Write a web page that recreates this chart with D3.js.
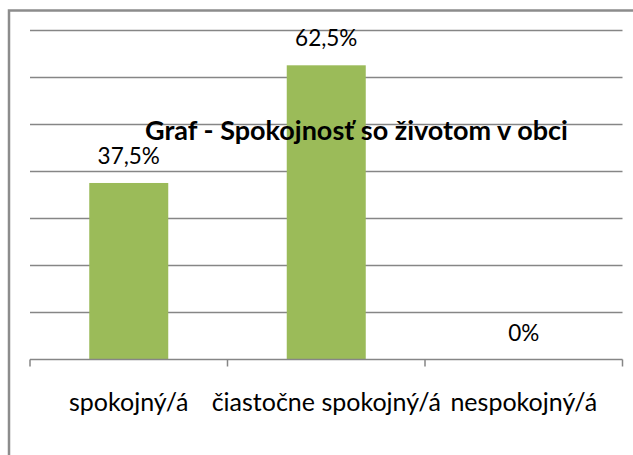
<!DOCTYPE html>
<html>
<head>
<meta charset="utf-8">
<script src="https://cdn.jsdelivr.net/npm/d3@7"></script>
<style>
  body { margin: 0; background: #fff; }
  svg { display: block; }
</style>
</head>
<body>
<script>
// Donnees
var categories = ['spokojný/á', 'čiastočne spokojný/á', 'nespokojný/á']
var values = [37.5, 62.5, 0]
var labels = ['37,5%', '62,5%', '0%']
var gridTicks = [0, 10, 20, 30, 40, 50, 60, 70]
var title = 'Graf - Spokojnosť so životom v obci'

var width = 633
var height = 455
var colours = { bar: '#9BBB59', grid: '#868686', border: '#8c8c8c', text: '#000' }
var font = 'Lato, "Open Sans", sans-serif'

var plot = { left: 30, right: 622.5, top: 30, bottom: 359.5 }

var x = d3.scaleBand()
    .domain(categories)
    .range([plot.left, plot.right])
    .paddingInner(0)
    .paddingOuter(0)

var y = d3.scaleLinear()
    .domain([0, 70])
    .range([plot.bottom, plot.top])

var svg = d3.select('body').append('svg')
    .attr('width', width)
    .attr('height', height)

// cadre (coupe a droite et en bas)
svg.append('rect')
    .attr('x', 9)
    .attr('y', 10.5)
    .attr('width', 700)
    .attr('height', 600)
    .attr('fill', 'none')
    .attr('stroke', colours.border)
    .attr('stroke-width', 2.5)

// lignes de grille
svg.append('g')
    .selectAll('line')
    .data(gridTicks.slice(1))
    .join('line')
    .attr('x1', plot.left)
    .attr('x2', plot.right)
    .attr('y1', d => Math.round(y(d)) + 0.5)
    .attr('y2', d => Math.round(y(d)) + 0.5)
    .attr('stroke', colours.grid)
    .attr('stroke-width', 1.5)

// barres
var barW = x.bandwidth() * 0.4
svg.append('g')
    .selectAll('rect')
    .data(values)
    .join('rect')
    .attr('x', (d, i) => x(categories[i]) + (x.bandwidth() - barW) / 2)
    .attr('y', d => y(d))
    .attr('width', barW)
    .attr('height', d => y(0) - y(d))
    .attr('fill', colours.bar)

// axe x
var xAxis = svg.append('g')
    .attr('transform', 'translate(0,' + plot.bottom + ')')
xAxis.append('line')
    .attr('x1', plot.left)
    .attr('x2', plot.right)
    .attr('stroke', colours.grid)
    .attr('stroke-width', 1.5)
xAxis.selectAll('.tick')
    .data(categories.concat(['end']))
    .join('line')
    .attr('class', 'tick')
    .attr('x1', (d, i) => i < categories.length ? x(d) : plot.right)
    .attr('x2', (d, i) => i < categories.length ? x(d) : plot.right)
    .attr('y1', 0)
    .attr('y2', 7)
    .attr('stroke', colours.grid)
    .attr('stroke-width', 1.5)

xAxis.selectAll('text')
    .data(categories)
    .join('text')
    .attr('x', d => x(d) + x.bandwidth() / 2)
    .attr('y', 51)
    .attr('text-anchor', 'middle')
    .attr('font-family', font)
    .attr('font-size', '25px')
    .attr('fill', colours.text)
    .text(d => d)

// etiquettes de donnees
svg.append('g')
    .selectAll('text')
    .data(values)
    .join('text')
    .attr('x', (d, i) => x(categories[i]) + x.bandwidth() / 2)
    .attr('y', d => y(d) - 19)
    .attr('text-anchor', 'middle')
    .attr('font-family', font)
    .attr('font-size', '22.5px')
    .attr('fill', colours.text)
    .text((d, i) => labels[i])

// titre
svg.append('text')
    .attr('x', 356.5)
    .attr('y', 140)
    .attr('text-anchor', 'middle')
    .attr('font-family', font)
    .attr('font-weight', 'bold')
    .attr('font-size', '27px')
    .attr('fill', colours.text)
    .text(title)
</script>
</body>
</html>
